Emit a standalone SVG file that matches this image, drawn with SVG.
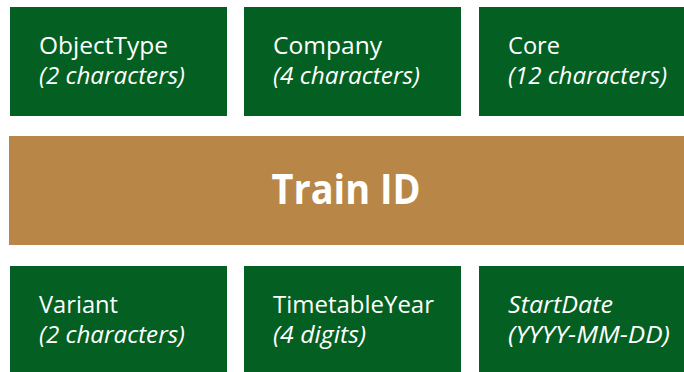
<svg xmlns="http://www.w3.org/2000/svg" width="684" height="372" viewBox="0 0 684 372">
<style>
.box{fill:#045F22}
.band{fill:#B88748}
.t{font-family:"Open Sans","Noto Sans",sans-serif;font-size:23px;fill:#fff}
.i{font-style:italic}
.big{font-family:"Open Sans","Noto Sans",sans-serif;font-size:42px;font-weight:bold;fill:#fff}
</style>
<rect width="684" height="372" fill="#fff"/>
<g id="objecttype"><rect class="box" x="10" y="7" width="217" height="109"/><text class="t" x="39" y="54" textLength="129" lengthAdjust="spacingAndGlyphs">ObjectType</text><text class="t i" x="39" y="84" textLength="146" lengthAdjust="spacingAndGlyphs">(2 characters)</text></g>
<g id="company"><rect class="box" x="244" y="7" width="217" height="109"/><text class="t" x="273" y="54" textLength="109" lengthAdjust="spacingAndGlyphs">Company</text><text class="t i" x="273" y="84" textLength="147" lengthAdjust="spacingAndGlyphs">(4 characters)</text></g>
<g id="core"><rect class="box" x="479" y="7" width="205" height="109"/><text class="t" x="508" y="54" textLength="52" lengthAdjust="spacingAndGlyphs">Core</text><text class="t i" x="508" y="84" textLength="159" lengthAdjust="spacingAndGlyphs">(12 characters)</text></g>
<g id="trainid"><rect class="band" x="9" y="136" width="675" height="109"/><text class="big" x="346" y="204" text-anchor="middle" textLength="149" lengthAdjust="spacingAndGlyphs">Train ID</text></g>
<g id="variant"><rect class="box" x="10" y="266" width="217" height="106"/><text class="t" x="39" y="313" textLength="79" lengthAdjust="spacingAndGlyphs">Variant</text><text class="t i" x="39" y="343" textLength="146" lengthAdjust="spacingAndGlyphs">(2 characters)</text></g>
<g id="timetableyear"><rect class="box" x="244" y="266" width="217" height="106"/><text class="t" x="273" y="313" textLength="161" lengthAdjust="spacingAndGlyphs">TimetableYear</text><text class="t i" x="273" y="343" textLength="93" lengthAdjust="spacingAndGlyphs">(4 digits)</text></g>
<g id="startdate"><rect class="box" x="479" y="266" width="205" height="106"/><text class="t i" x="508" y="313" textLength="105" lengthAdjust="spacingAndGlyphs">StartDate</text><text class="t i" x="508" y="343" textLength="162" lengthAdjust="spacingAndGlyphs">(YYYY-MM-DD)</text></g>
<g id="connectors"/>
</svg>
